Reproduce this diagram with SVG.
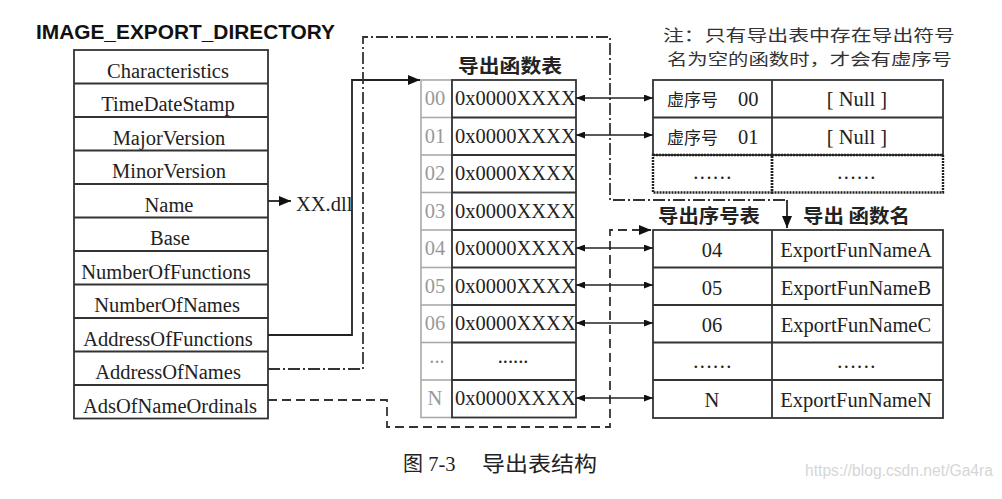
<svg xmlns="http://www.w3.org/2000/svg" width="1002" height="499" viewBox="0 0 1002 499">
<style>
.bg{fill:#fff}
.cell{fill:#fff;stroke:#333;stroke-width:1.8}
.gcell{fill:#fff;stroke:#aaa;stroke-width:1.6}
.sep{stroke:#333;stroke-width:1.8}
.gsep{stroke:#aaa;stroke-width:1.6}
.dots{fill:none;stroke:#222;stroke-width:2.4;stroke-dasharray:2 1}
.t{font-family:"Liberation Serif","Noto Sans CJK SC",serif;font-size:20.5px;fill:#222}
.tc{text-anchor:middle}
.g{fill:#999}
.cjk{font-family:"Noto Sans CJK SC",sans-serif;fill:#222}
.hb{font-weight:700;font-size:19px}
.note{font-size:16px;fill:#333}
.title{font-family:"Liberation Sans",Arial,sans-serif;font-weight:700;font-size:20px;fill:#111}
.wm{font-family:"Liberation Sans",Arial,sans-serif;font-size:16px;fill:#d6d6d6}
.solid{fill:none;stroke:#222;stroke-width:1.8}
.dd{fill:none;stroke:#333;stroke-width:1.8;stroke-dasharray:12 3 2 3}
.dash{fill:none;stroke:#333;stroke-width:1.8;stroke-dasharray:9 5}
.dbl{fill:none;stroke:#222;stroke-width:1.6}
</style>
<defs>
<marker id="arr" markerUnits="userSpaceOnUse" markerWidth="12" markerHeight="10" refX="12" refY="5" orient="auto"><path d="M0,0 L12,5 L0,10 z" fill="#111"/></marker>
<marker id="arrS" markerUnits="userSpaceOnUse" markerWidth="9" markerHeight="7" refX="9" refY="3.5" orient="auto-start-reverse"><path d="M0,0 L9,3.5 L0,7 z" fill="#111"/></marker>
</defs>
<rect class="bg" x="0" y="0" width="1002" height="499"/>

<g id="title"><text class="title" x="36" y="39" textLength="299" lengthAdjust="spacingAndGlyphs">IMAGE_EXPORT_DIRECTORY</text></g>

<g id="image-export-directory">
<rect class="cell" x="74" y="50" width="194" height="368.5"/>
<line class="sep" x1="74" y1="83.5" x2="268" y2="83.5"/>
<line class="sep" x1="74" y1="117" x2="268" y2="117"/>
<line class="sep" x1="74" y1="150.5" x2="268" y2="150.5"/>
<line class="sep" x1="74" y1="184" x2="268" y2="184"/>
<line class="sep" x1="74" y1="217.5" x2="268" y2="217.5"/>
<line class="sep" x1="74" y1="251" x2="268" y2="251"/>
<line class="sep" x1="74" y1="284.5" x2="268" y2="284.5"/>
<line class="sep" x1="74" y1="318" x2="268" y2="318"/>
<line class="sep" x1="74" y1="351.5" x2="268" y2="351.5"/>
<line class="sep" x1="74" y1="385" x2="268" y2="385"/>
<text class="t tc" x="168" y="77.5">Characteristics</text>
<text class="t tc" x="168" y="111">TimeDateStamp</text>
<text class="t tc" x="169" y="144.5">MajorVersion</text>
<text class="t tc" x="169" y="178">MinorVersion</text>
<text class="t tc" x="169" y="211.5">Name</text>
<text class="t tc" x="170" y="245">Base</text>
<text class="t tc" x="166" y="278.5">NumberOfFunctions</text>
<text class="t tc" x="167" y="312">NumberOfNames</text>
<text class="t tc" x="168" y="345.5">AddressOfFunctions</text>
<text class="t tc" x="168" y="379">AddressOfNames</text>
<text class="t tc" x="170" y="412.5">AdsOfNameOrdinals</text>
</g>

<g id="xx-dll"><text class="t" x="296" y="211">XX.dll</text></g>

<g id="export-address-table">
<text class="cjk hb" x="458" y="73" textLength="104" lengthAdjust="spacingAndGlyphs">导出函数表</text>
<rect class="gcell" x="421" y="80" width="31" height="337.5"/>
<line class="gsep" x1="421" y1="117.5" x2="452" y2="117.5"/>
<line class="gsep" x1="421" y1="155" x2="452" y2="155"/>
<line class="gsep" x1="421" y1="192.5" x2="452" y2="192.5"/>
<line class="gsep" x1="421" y1="230" x2="452" y2="230"/>
<line class="gsep" x1="421" y1="267.5" x2="452" y2="267.5"/>
<line class="gsep" x1="421" y1="305" x2="452" y2="305"/>
<line class="gsep" x1="421" y1="342.5" x2="452" y2="342.5"/>
<line class="gsep" x1="421" y1="380" x2="452" y2="380"/>
<rect class="cell" x="452" y="80" width="124" height="337.5"/>
<line class="sep" x1="452" y1="117.5" x2="576" y2="117.5"/>
<line class="sep" x1="452" y1="155" x2="576" y2="155"/>
<line class="sep" x1="452" y1="192.5" x2="576" y2="192.5"/>
<line class="sep" x1="452" y1="230" x2="576" y2="230"/>
<line class="sep" x1="452" y1="267.5" x2="576" y2="267.5"/>
<line class="sep" x1="452" y1="305" x2="576" y2="305"/>
<line class="sep" x1="452" y1="342.5" x2="576" y2="342.5"/>
<line class="sep" x1="452" y1="380" x2="576" y2="380"/>
<text class="t tc g" x="435" y="105">00</text>
<text class="t tc g" x="435" y="142.5">01</text>
<text class="t tc g" x="435" y="180">02</text>
<text class="t tc g" x="435" y="217.5">03</text>
<text class="t tc g" x="435" y="255">04</text>
<text class="t tc g" x="435" y="292.5">05</text>
<text class="t tc g" x="435" y="330">06</text>
<text class="t tc g" x="437" y="363">...</text>
<text class="t tc g" x="435" y="405">N</text>
<text class="t" x="455" y="105">0x0000XXXX</text>
<text class="t" x="455" y="142.5">0x0000XXXX</text>
<text class="t" x="455" y="180">0x0000XXXX</text>
<text class="t" x="455" y="217.5">0x0000XXXX</text>
<text class="t" x="455" y="255">0x0000XXXX</text>
<text class="t" x="455" y="292.5">0x0000XXXX</text>
<text class="t" x="455" y="330">0x0000XXXX</text>
<text class="t tc" x="513" y="363">......</text>
<text class="t" x="455" y="405">0x0000XXXX</text>
</g>

<g id="note">
<text class="cjk note" x="663" y="41" textLength="292" lengthAdjust="spacingAndGlyphs">注：只有导出表中存在导出符号</text>
<text class="cjk note" x="667" y="65" textLength="285" lengthAdjust="spacingAndGlyphs">名为空的函数时，才会有虚序号</text>
</g>

<g id="null-name-table">
<rect class="cell" x="653" y="80" width="290" height="75"/>
<line class="sep" x1="653" y1="117.5" x2="943" y2="117.5"/>
<line class="sep" x1="772" y1="80" x2="772" y2="155"/>
<rect class="dots" x="653" y="155" width="119" height="37.5"/>
<rect class="dots" x="772" y="155" width="171" height="37.5"/>
<text class="t"><tspan class="cjk" style="font-size:17px" x="667" y="106">虚序号</tspan><tspan x="738" y="106">00</tspan></text>
<text class="t"><tspan class="cjk" style="font-size:17px" x="667" y="143.5">虚序号</tspan><tspan x="738" y="143.5">01</tspan></text>
<text class="t tc" x="857" y="106">[ Null ]</text>
<text class="t tc" x="857" y="143.5">[ Null ]</text>
<text class="t tc" x="713" y="179" style="letter-spacing:1.5px">......</text>
<text class="t tc" x="857" y="179" style="letter-spacing:1.5px">......</text>
</g>

<g id="ordinal-name-table">
<text class="cjk hb" x="658" y="223" textLength="102" lengthAdjust="spacingAndGlyphs">导出序号表</text>
<text class="cjk hb" x="803" y="223" textLength="107" lengthAdjust="spacingAndGlyphs">导出 函数名</text>
<rect class="cell" x="653" y="230" width="290" height="188"/>
<line class="sep" x1="772" y1="230" x2="772" y2="418"/>
<line class="sep" x1="653" y1="267.5" x2="943" y2="267.5"/>
<line class="sep" x1="653" y1="305" x2="943" y2="305"/>
<line class="sep" x1="653" y1="342.5" x2="943" y2="342.5"/>
<line class="sep" x1="653" y1="380" x2="943" y2="380"/>
<text class="t tc" x="712" y="257">04</text>
<text class="t tc" x="712" y="294.5">05</text>
<text class="t tc" x="712" y="332">06</text>
<text class="t tc" x="713" y="368" style="letter-spacing:1.5px">......</text>
<text class="t tc" x="712" y="407">N</text>
<text class="t tc" x="856" y="257">ExportFunNameA</text>
<text class="t tc" x="856" y="294.5">ExportFunNameB</text>
<text class="t tc" x="856" y="332">ExportFunNameC</text>
<text class="t tc" x="857" y="368" style="letter-spacing:1.5px">......</text>
<text class="t tc" x="856" y="407">ExportFunNameN</text>
</g>

<g id="connectors">
<line class="solid" x1="268" y1="201" x2="291" y2="201" marker-end="url(#arr)"/>
<path class="solid" d="M268,335 H352 V80 H420" marker-end="url(#arr)"/>
<path class="dd" d="M268,369 H363 V37 H610 V200 H787"/>
<line class="solid" x1="787" y1="200" x2="787" y2="228" marker-end="url(#arr)"/>
<path class="dash" d="M268,400 H387 V427 H610 V230 H651" marker-end="url(#arr)"/>
<line class="dbl" x1="576" y1="98" x2="653" y2="98" marker-start="url(#arrS)" marker-end="url(#arrS)"/>
<line class="dbl" x1="576" y1="135" x2="653" y2="135" marker-start="url(#arrS)" marker-end="url(#arrS)"/>
<line class="dbl" x1="576" y1="248" x2="653" y2="248" marker-start="url(#arrS)" marker-end="url(#arrS)"/>
<line class="dbl" x1="576" y1="285" x2="653" y2="285" marker-start="url(#arrS)" marker-end="url(#arrS)"/>
<line class="dbl" x1="576" y1="323" x2="653" y2="323" marker-start="url(#arrS)" marker-end="url(#arrS)"/>
<line class="dbl" x1="576" y1="398" x2="653" y2="398" marker-start="url(#arrS)" marker-end="url(#arrS)"/>
</g>

<g id="caption">
<text class="t" x="403" y="471"><tspan class="cjk" style="font-size:20px">图</tspan> 7-3</text>
<text class="cjk" x="482" y="471" style="font-size:21px" textLength="115" lengthAdjust="spacingAndGlyphs">导出表结构</text>
</g>
<g id="watermark"><text class="wm" x="805" y="476" textLength="188" lengthAdjust="spacingAndGlyphs">https://blog.csdn.net/Ga4ra</text></g>
</svg>
